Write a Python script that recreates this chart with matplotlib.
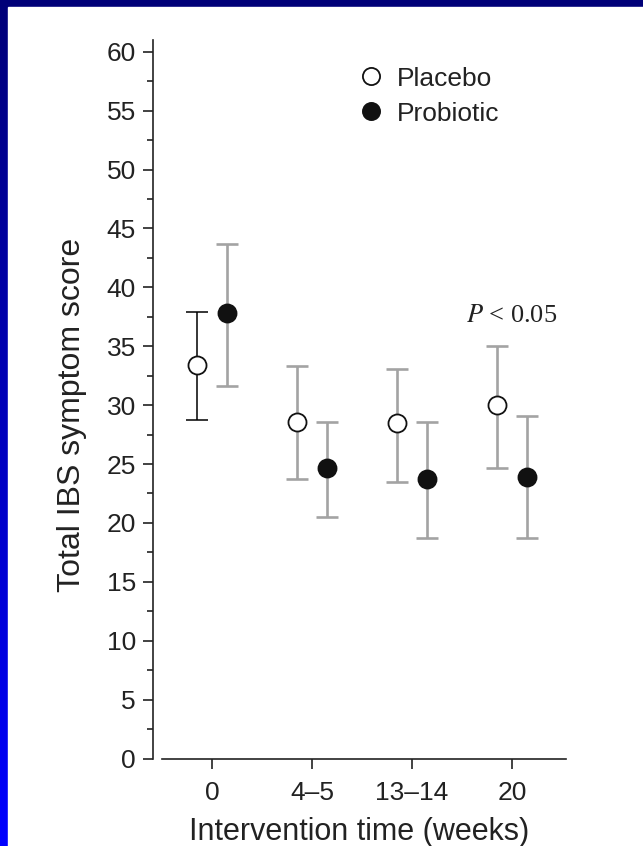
import matplotlib
matplotlib.use('Agg')
import matplotlib.pyplot as plt
from matplotlib.patches import Rectangle
from matplotlib.ticker import MultipleLocator
import numpy as np

plt.rcParams['font.family'] = ['Liberation Sans', 'DejaVu Sans']
plt.rcParams['mathtext.fontset'] = 'stix'

# data
time_labels = ['0', '4\u20135', '13\u201314', '20']
placebo_mean = [33.4, 28.6, 28.5, 30.0]
placebo_upper = [37.9, 33.3, 33.1, 35.0]
placebo_lower = [28.7, 23.7, 23.5, 24.7]
probiotic_mean = [37.8, 24.7, 23.7, 23.9]
probiotic_upper = [43.7, 28.6, 28.6, 29.1]
probiotic_lower = [31.6, 20.5, 18.7, 18.7]
placebo_bar_colors = ['black', '#a3a3a3', '#a3a3a3', '#a3a3a3']
probiotic_bar_colors = ['#a3a3a3', '#a3a3a3', '#a3a3a3', '#a3a3a3']

W, H = 643, 846
fig = plt.figure(figsize=(W / 100, H / 100), dpi=100)

# slide background: blue gradient with white picture on top
bg = fig.add_axes([0, 0, 1, 1])
grad = np.linspace(0, 1, 256).reshape(-1, 1)
top = np.array([0, 0, 120]) / 255.
bot = np.array([0, 0, 255]) / 255.
img = top[None, None, :] * (1 - grad[:, :, None]) + bot[None, None, :] * grad[:, :, None]
bg.imshow(img, aspect='auto', extent=[0, W, H, 0])
bg.add_patch(Rectangle((8, 7), W - 8, H - 7, color='white'))
bg.set_xlim(0, W)
bg.set_ylim(H, 0)
bg.axis('off')

ax = fig.add_axes([152.5 / W, 1 - 758.5 / H, (566 - 152.5) / W, (758.5 - 40) / H])
ax.set_facecolor('none')

x = np.arange(len(time_labels))
off = 0.15


def draw_group(xs, mean, upper, lower, bar_colors, face):
    for xi, m, u, l, c in zip(xs, mean, upper, lower, bar_colors):
        ax.errorbar([xi], [m], yerr=[[m - l], [u - m]], fmt='none', ecolor=c,
                    elinewidth=1.9 if c != 'black' else 1.1, capsize=8,
                    capthick=1.9 if c != 'black' else 1.1, zorder=2)
    line, = ax.plot(xs, mean, 'o', ms=13, mfc=face, mec='#111111', mew=1.3,
                    ls='none', zorder=3)
    return line


p1 = draw_group(x - off, placebo_mean, placebo_upper, placebo_lower, placebo_bar_colors, 'white')
p2 = draw_group(x + off, probiotic_mean, probiotic_upper, probiotic_lower, probiotic_bar_colors, '#111111')

ax.set_xlim(-0.595, 3.54)
ax.set_ylim(0, 61)
ax.set_xticks(x)
ax.set_xticklabels(time_labels)
ax.yaxis.set_major_locator(MultipleLocator(5))
ax.yaxis.set_minor_locator(MultipleLocator(2.5))
ax.set_yticks(np.arange(0, 61, 5))

for s in ['top', 'right']:
    ax.spines[s].set_visible(False)
ax.spines['left'].set_bounds(0, 61)
ax.spines['bottom'].set_bounds(-0.5, 3.54)
for s in ['left', 'bottom']:
    ax.spines[s].set_linewidth(1.2)
    ax.spines[s].set_color('#222222')

ax.tick_params(axis='both', which='major', direction='out', length=7, width=1.2,
               color='#222222', labelsize=19, labelcolor='#222222')
ax.tick_params(axis='y', which='minor', direction='out', length=4, width=1.2, color='#222222')
ax.tick_params(axis='y', pad=5)
ax.tick_params(axis='x', pad=9)

ax.set_xlabel('Intervention time (weeks)', fontsize=22, color='#222222', labelpad=9)
ax.set_ylabel('Total IBS symptom score', fontsize=23, color='#222222')
ax.yaxis.set_label_coords(-0.158, 0.478)

ax.text(3.0, 37.6, r'$P$ < 0.05', fontsize=19, family='Liberation Serif',
        ha='center', va='center', color='#222222')

leg = ax.legend([p1, p2], ['Placebo', 'Probiotic'], loc='upper left',
                bbox_to_anchor=(0.506, 0.963), frameon=False, fontsize=19,
                handlelength=0.7, handletextpad=0.63, labelspacing=0.42,
                borderpad=0, borderaxespad=0, markerscale=0.95)
for t in leg.get_texts():
    t.set_color('#222222')

plt.savefig('out.png', dpi=100)
